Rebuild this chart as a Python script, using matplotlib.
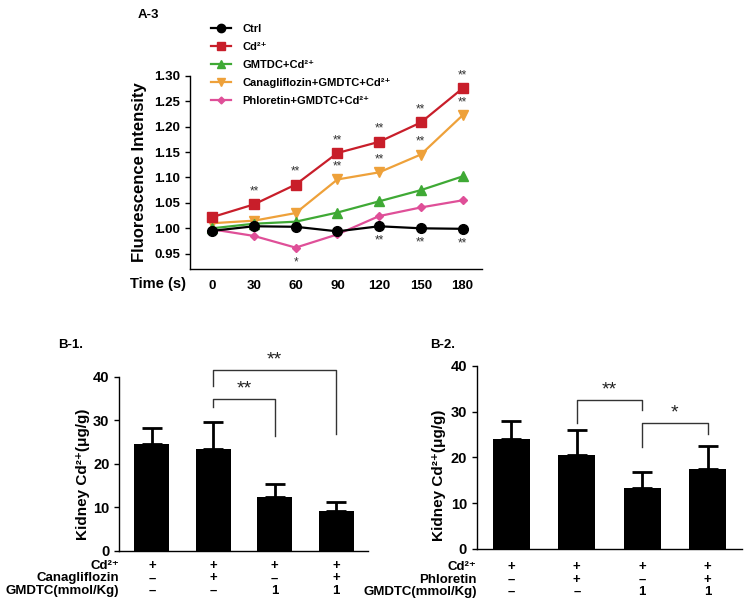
import matplotlib
matplotlib.use("Agg")
import matplotlib.pyplot as plt
from matplotlib.lines import Line2D

plt.rcParams['font.family'] = ['Liberation Sans', 'DejaVu Sans']
plt.rcParams['font.weight'] = 'bold'
plt.rcParams['axes.labelweight'] = 'bold'
plt.rcParams['axes.linewidth'] = 1.0

# ---- A-3: fluorescence over time ----
time_s = [0, 30, 60, 90, 120, 150, 180]
ctrl = [0.995, 1.004, 1.003, 0.994, 1.004, 1.000, 0.999]
cd = [1.022, 1.047, 1.086, 1.148, 1.170, 1.208, 1.275]
gmdtc_cd = [1.000, 1.009, 1.013, 1.031, 1.053, 1.075, 1.102]
cana_gmdtc_cd = [1.010, 1.015, 1.030, 1.096, 1.110, 1.145, 1.222]
phlo_gmdtc_cd = [0.998, 0.985, 0.962, 0.988, 1.024, 1.041, 1.055]
ctrl_sig = ['', '', '', '', '**', '**', '**']
cd_sig = ['', '**', '**', '**', '**', '**', '**']
cana_sig = ['', '', '', '**', '**', '**', '**']
phlo_sig = ['', '', '*', '', '', '', '']
a3_yticks = [0.95, 1.00, 1.05, 1.10, 1.15, 1.20, 1.25, 1.30]

# ---- B-1 / B-2: kidney Cd content ----
b1_means = [24.6, 23.5, 12.3, 9.2]
b1_sd = [3.7, 6.2, 3.0, 2.0]
b1_rows = ['Cd²⁺', 'Canagliflozin', 'GMDTC(mmol/Kg)']
b1_table = [['+', '+', '+', '+'], ['–', '+', '–', '+'], ['–', '–', '1', '1']]
# (left bar, right bar, top, left leg end, right leg end, label)
b1_brackets = [(1, 2, 34.9, 33.1, 26.4, '**'), (1, 3, 41.6, 37.8, 26.9, '**')]

b2_means = [24.1, 20.5, 13.3, 17.5]
b2_sd = [3.9, 5.4, 3.4, 5.0]
b2_rows = ['Cd²⁺', 'Phloretin', 'GMDTC(mmol/Kg)']
b2_table = [['+', '+', '+', '+'], ['–', '+', '–', '+'], ['–', '–', '1', '1']]
b2_brackets = [(1, 2, 32.6, 27.5, 30.4, '**'), (2, 3, 27.5, 22.2, 25.1, '*')]

bar_yticks = [0, 10, 20, 30, 40]

W, H = 751, 612
fig = plt.figure(figsize=(W / 100, H / 100), dpi=100)


def frac(x0, y0, x1, y1):
    return [x0 / W, 1 - y1 / H, (x1 - x0) / W, (y1 - y0) / H]


# ================= A-3 =================
ax = fig.add_axes(frac(190, 75.7, 482, 269))
series = [
    ('Ctrl', ctrl, '#000000', 'o', 7, ctrl_sig, -1),
    ('Cd²⁺', cd, '#c81e2a', 's', 6.5, cd_sig, 1),
    ('GMTDC+Cd²⁺', gmdtc_cd, '#3fa935', '^', 6.5, None, 1),
    ('Canagliflozin+GMDTC+Cd²⁺', cana_gmdtc_cd, '#eea13a', 'v', 6.5, cana_sig, 1),
    ('Phloretin+GMDTC+Cd²⁺', phlo_gmdtc_cd, '#df4f98', 'D', 4.5, phlo_sig, -1),
]
handles = []
for k, (lab, vals, col, mk, ms, sig, side) in enumerate(series):
    z = 10 - k if k > 0 else 11
    ax.plot(time_s, vals, color=col, lw=1.6, marker=mk, ms=ms, zorder=z, clip_on=False)
    handles.append(Line2D([], [], color=col, lw=1.6, marker=mk, ms=ms - 1))
    if sig:
        for t, v, s in zip(time_s, vals, sig):
            if s:
                ax.annotate(s, (t, v), xytext=(0, 5 if side > 0 else -6),
                            textcoords='offset points', ha='center',
                            va='bottom' if side > 0 else 'top',
                            fontsize=8.5, fontweight='normal', color='#333333')

ax.set_xlim(-16, 194)
ax.set_ylim(0.92, 1.30)
ax.set_xticks(time_s)
ax.set_yticks(a3_yticks)
ax.set_yticklabels([f'{v:.2f}' for v in a3_yticks])
ax.tick_params(axis='x', length=0, pad=8, labelsize=9.5)
ax.tick_params(axis='y', length=3.5, width=1, labelsize=9.5, direction='out')
for s in ['top', 'right']:
    ax.spines[s].set_visible(False)
ax.set_ylabel('Fluorescence Intensity', fontsize=12)
ax.yaxis.set_label_coords(-0.147, 0.5)
ax.text(-0.012, -0.08, 'Time (s)', transform=ax.transAxes, ha='right', va='center',
        fontsize=10.5)
fig.legend(handles, [s[0] for s in series], loc='upper left',
           bbox_to_anchor=(211 / W, 1 - 24 / H), frameon=False, fontsize=8,
           handlelength=1.8, handletextpad=1.0, labelspacing=0.72,
           borderpad=0, borderaxespad=0)
fig.text(138 / W, 1 - 15 / H, 'A-3', fontsize=9.5, va='center', ha='left')


# ================= B panels =================
def bar_panel(rect, means, sd, rows, table, brackets, row_offsets, ylab_xy):
    bx = fig.add_axes(rect)
    xs = list(range(len(means)))
    bx.bar(xs, means, width=0.57, color='black', zorder=2)
    bx.errorbar(xs, means, yerr=[[0] * len(sd), sd], fmt='none', ecolor='black',
                elinewidth=2, capsize=7, capthick=2, zorder=1)
    bx.set_xlim(-0.53, len(means) - 0.48)
    bx.set_ylim(0, 40)
    bx.set_yticks(bar_yticks)
    bx.set_xticks([])
    bx.tick_params(axis='y', length=3.5, width=1, labelsize=10.5)
    for s in ['top', 'right']:
        bx.spines[s].set_visible(False)
    bx.set_ylabel('Kidney Cd²⁺(μg/g)', fontsize=11)
    bx.yaxis.set_label_coords(*ylab_xy)
    for (i, j, top, lb, rb, lab) in brackets:
        bx.plot([i, i, j, j], [lb, top, top, rb], color='#333333', lw=1,
                clip_on=False)
        bx.text((i + j) / 2, top + 0.3, lab, ha='center', va='bottom',
                fontsize=14, fontweight='normal', color='#222222')
    for r, (name, cells) in enumerate(zip(rows, table)):
        off = -row_offsets[r]
        bx.annotate(name, (0, 0), xycoords='axes fraction', xytext=(0, off),
                    textcoords='offset points', ha='right', va='center', fontsize=9.5)
        for x, c in zip(xs, cells):
            bx.annotate(c, (x, 0), xycoords=('data', 'axes fraction'), xytext=(0, off),
                        textcoords='offset points', ha='center', va='center',
                        fontsize=9.5)
    return bx


bar_panel(frac(119.3, 376.7, 368, 551), b1_means, b1_sd, b1_rows, b1_table,
          b1_brackets, [11, 19.8, 29], (-0.118, 0.44))
fig.text(58 / W, 1 - 345 / H, 'B-1.', fontsize=9.5, va='center', ha='left')

bar_panel(frac(476.7, 365.7, 741.7, 549), b2_means, b2_sd, b2_rows, b2_table,
          b2_brackets, [13, 22.3, 30.7], (-0.116, 0.40))
fig.text(430 / W, 1 - 345 / H, 'B-2.', fontsize=9.5, va='center', ha='left')

fig.savefig('out.png', dpi=100)
